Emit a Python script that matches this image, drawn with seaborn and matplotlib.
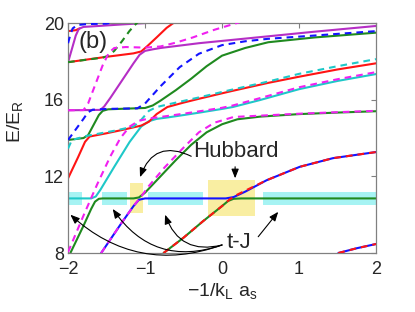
import matplotlib
matplotlib.use('Agg')
import matplotlib.pyplot as plt
import seaborn as sns
import pandas as pd
from matplotlib.patches import Rectangle

# energy levels E/E_R vs -1/(k_L a_s)
green_low = [(-1.97, 8.0), (-1.8, 9.42), (-1.7, 10.3), (-1.65, 10.68), (-1.6, 10.83), (-1.55, 10.85),
             (-1.15, 10.85), (-1.08, 10.9), (-1.0, 11.15), (-0.8, 12.0), (-0.6, 12.85), (-0.4, 13.65),
             (-0.2, 14.3), (0.0, 14.72), (0.2, 14.98), (0.5, 15.12), (1.0, 15.25), (1.5, 15.33), (2.0, 15.4)]
green_flat = [(-0.76, 8.0), (-0.5, 8.8), (-0.25, 9.65), (0.0, 10.45), (0.08, 10.72), (0.15, 10.83),
              (0.25, 10.85), (2.0, 10.85)]
green_mid = [(-2.0, 13.9), (-1.8, 14.0), (-1.74, 14.15), (-1.68, 14.6), (-1.6, 15.2), (-1.55, 15.42),
             (-1.48, 15.5), (-1.0, 15.57), (-0.9, 15.7), (-0.8, 15.95), (-0.6, 16.5), (-0.4, 17.1),
             (-0.2, 17.75), (0.0, 18.3), (0.3, 18.7), (0.6, 19.0), (1.2, 19.25), (2.0, 19.5)]
blue_low = [(-1.57, 8.0), (-1.3, 9.6), (-1.15, 10.45), (-1.08, 10.78), (-1.0, 10.85), (0.05, 10.85),
            (0.15, 10.92), (0.3, 11.2), (0.58, 11.8), (1.01, 12.5), (1.44, 12.95), (2.0, 13.27)]
blue_corner = [(1.51, 8.0), (1.75, 8.25), (2.0, 8.47)]
cyan_solid = [(-2.0, 10.85), (-1.7, 10.85), (-1.64, 10.95), (-1.58, 11.3), (-1.4, 12.5), (-1.2, 13.8),
              (-1.05, 14.6), (-0.95, 14.88), (-0.85, 15.0), (-0.7, 15.08), (-0.5, 15.2), (-0.29, 15.33),
              (0.0, 15.52), (0.14, 15.62), (0.49, 15.98), (1.0, 16.55), (1.5, 16.98), (2.0, 17.34)]
red_mid = [(-2.0, 11.9), (-1.87, 13.0), (-1.78, 13.8), (-1.72, 14.08), (-1.5, 14.25), (-1.3, 14.42),
           (-1.05, 14.65), (-0.95, 14.85), (-0.85, 15.25), (-0.71, 15.62), (-0.5, 15.85), (-0.3, 16.05),
           (0.1, 16.43), (0.6, 16.88), (1.0, 17.2), (1.5, 17.58), (2.0, 17.9)]
red_top = [(-2.0, 17.96), (-1.5, 18.24), (-1.15, 18.42), (-1.05, 18.52), (-0.97, 18.8), (-0.85, 19.25),
           (-0.72, 19.75), (-0.64, 19.98), (-0.58, 20.1)]
red_corner = [(-2.0, 19.58), (-1.9, 19.63), (-1.85, 19.72)]
purple = [(-2.0, 15.45), (-1.58, 15.47), (-1.53, 15.65), (-1.45, 16.1), (-1.3, 17.0), (-1.15, 17.9),
          (-1.07, 18.35), (-1.0, 18.55), (-0.9, 18.63), (-0.8, 18.7), (-0.3, 18.95), (0.5, 19.27),
          (1.2, 19.55), (2.0, 19.85)]
magenta_top = [(-2.0, 17.96), (-1.95, 18.65), (-1.9, 19.35), (-1.86, 19.7), (-1.8, 19.8), (-1.6, 19.85),
               (-1.3, 19.93), (-1.0, 20.0), (-0.8, 20.05)]

# dashed levels
blue_d_top = [(-2.0, 18.95), (-1.97, 19.4), (-1.94, 19.72), (-1.88, 19.9), (-1.75, 19.95), (-1.5, 19.97),
              (-1.4, 20.05)]
blue_d_mid = [(-2.0, 13.9), (-1.9, 14.45), (-1.8, 15.0), (-1.74, 15.35), (-1.68, 15.48), (-1.5, 15.52),
              (-1.1, 15.55), (-1.0, 15.8), (-0.8, 16.7), (-0.55, 17.7), (-0.3, 18.4), (0.0, 18.85),
              (0.3, 19.05), (0.6, 19.18), (1.2, 19.35), (2.0, 19.58)]
green_d = [(-2.0, 17.96), (-1.55, 18.2), (-1.47, 18.3), (-1.4, 18.55), (-1.3, 19.05), (-1.2, 19.6),
           (-1.12, 19.95), (-1.08, 20.1)]
cyan_d = [(-2.0, 13.45), (-1.95, 13.9), (-1.75, 14.12), (-1.4, 14.38), (-1.15, 14.6), (-1.05, 14.95),
          (-0.95, 15.42), (-0.85, 15.62), (-0.71, 15.75), (-0.3, 16.12), (0.1, 16.5), (0.6, 16.95),
          (1.0, 17.35), (1.5, 17.75), (2.0, 18.12)]
magenta_d_low = [(-2.0, 8.05), (-1.8, 9.95), (-1.62, 11.6), (-1.45, 13.05), (-1.32, 14.0), (-1.2, 14.6),
                 (-1.08, 14.9), (-0.95, 15.02), (-0.8, 15.1), (-0.5, 15.27), (-0.29, 15.4), (0.0, 15.58),
                 (0.14, 15.7), (0.49, 16.08), (1.0, 16.65), (1.5, 17.07), (2.0, 17.44)]
magenta_d_mid = [(-1.57, 8.0), (-1.3, 9.6), (-1.15, 10.45), (-1.05, 10.95), (-0.95, 11.5), (-0.75, 12.45),
                 (-0.5, 13.5), (-0.3, 14.3), (-0.1, 14.8), (0.15, 15.1), (0.5, 15.17), (1.0, 15.27),
                 (1.5, 15.35), (2.0, 15.42)]
magenta_d_top = [(-2.0, 15.45), (-1.8, 15.46), (-1.74, 15.8), (-1.65, 16.75), (-1.55, 17.8), (-1.47, 18.45),
                 (-1.4, 18.7), (-1.25, 18.75), (-1.0, 18.72), (-0.8, 18.78), (-0.6, 18.98), (-0.38, 19.25),
                 (-0.1, 19.65), (0.19, 20.0), (0.3, 20.15)]
red_d = [(-0.76, 8.0), (-0.5, 8.8), (-0.25, 9.65), (0.0, 10.45), (0.1, 10.8), (0.2, 11.05), (0.3, 11.25),
         (0.58, 11.8), (1.01, 12.5), (1.44, 12.95), (2.0, 13.27)]
red_d_corner = [(1.51, 8.0), (1.75, 8.25), (2.0, 8.47)]

# highlighted regions
tj_bands = [(-2.0, -1.82), (-1.56, -1.23), (-0.96, -0.25), (0.53, 2.0)]
tj_band_e = (10.5, 11.18)
hubbard_boxes = [(-1.19, -1.03, 10.09, 11.65), (-0.18, 0.43, 9.93, 11.81)]

x_ticks = [-2, -1, 0, 1, 2]
y_ticks = [8, 12, 16, 20]

GREEN = '#1f8a1f'
BLUE = '#1414ff'
RED = '#ff1414'
CYAN = '#1ec8c8'
PURPLE = '#b52ec5'
MAGENTA = '#f020f0'

solid_lines = [
    (green_low, GREEN), (green_flat, GREEN), (green_mid, GREEN),
    (blue_low, BLUE), (blue_corner, BLUE), (cyan_solid, CYAN),
    (red_mid, RED), (red_top, RED), (red_corner, RED),
    (purple, PURPLE), (magenta_top, PURPLE),
]
dashed_lines = [
    (blue_d_top, BLUE), (blue_d_mid, BLUE), (green_d, GREEN), (cyan_d, CYAN),
    (magenta_d_low, MAGENTA), (magenta_d_mid, MAGENTA), (magenta_d_top, MAGENTA),
    (red_d, RED), (red_d_corner, RED),
]

sns.set_style('white')
plt.rcParams['font.family'] = ['Liberation Sans', 'DejaVu Sans']
plt.rcParams['mathtext.default'] = 'regular'

fig = plt.figure(figsize=(4.15, 3.12), dpi=100)
ax = fig.add_axes([0.164, 0.189, 0.742, 0.737])

for lo, hi in tj_bands:
    ax.add_patch(Rectangle((lo, tj_band_e[0]), hi - lo, tj_band_e[1] - tj_band_e[0],
                           facecolor='#a6f3f3', edgecolor='none', zorder=0))
for x0, x1, e0, e1 in hubbard_boxes:
    ax.add_patch(Rectangle((x0, e0), x1 - x0, e1 - e0,
                           facecolor='#f9eea2', edgecolor='none', zorder=0.5))

for pts, col in solid_lines:
    df = pd.DataFrame(pts, columns=['x', 'E'])
    sns.lineplot(data=df, x='x', y='E', sort=False, estimator=None, color=col,
                 linewidth=1.5, ax=ax, zorder=2)
for pts, col in dashed_lines:
    df = pd.DataFrame(pts, columns=['x', 'E'])
    sns.lineplot(data=df, x='x', y='E', sort=False, estimator=None, color=col,
                 linewidth=1.5, linestyle=(0, (3.2, 2.4)), ax=ax, zorder=3)

ax.set_xlim(-2, 2)
ax.set_ylim(8, 20)
ax.set_xticks(x_ticks)
ax.set_yticks(y_ticks)
ax.tick_params(direction='in', length=3.5, width=0.8, color='#808080', labelsize=13,
               top=True, right=True)
ax.tick_params(axis='x', pad=6)
ax.tick_params(axis='y', pad=3)
for sp in ax.spines.values():
    sp.set_color('#808080')
    sp.set_linewidth(0.9)

ax.set_xlabel('\u22121/k$_L$ a$_s$', fontsize=14, labelpad=2)
ax.set_ylabel('E/E$_R$', fontsize=14)
ax.yaxis.set_label_coords(-0.14, 0.57)

ax.text(-1.86, 19.0, '(b)', fontsize=17, va='center', ha='left', zorder=5)
ax.text(-0.37, 13.3, 'Hubbard', fontsize=16, va='center', ha='left', zorder=5)
ax.text(0.06, 8.55, 't-J', fontsize=16, va='center', ha='left', zorder=5)

arrow_kw = dict(arrowstyle='-|>,head_length=0.55,head_width=0.22', color='black', lw=0.8,
                shrinkA=0, shrinkB=0)
ax.annotate('', xy=(-1.065, 11.96), xytext=(-0.4, 13.05),
            arrowprops=dict(connectionstyle='arc3,rad=0.55', **arrow_kw), zorder=5)
ax.annotate('', xy=(0.17, 11.9), xytext=(0.17, 12.5), arrowprops=arrow_kw, zorder=5)
ax.annotate('', xy=(-1.97, 10.0), xytext=(0.0, 8.42),
            arrowprops=dict(connectionstyle='arc3,rad=-0.3', **arrow_kw), zorder=5)
ax.annotate('', xy=(-1.42, 10.3), xytext=(0.0, 8.42),
            arrowprops=dict(connectionstyle='arc3,rad=-0.38', **arrow_kw), zorder=5)
ax.annotate('', xy=(-0.74, 10.0), xytext=(0.0, 8.42),
            arrowprops=dict(connectionstyle='arc3,rad=-0.45', **arrow_kw), zorder=5)
ax.annotate('', xy=(0.73, 10.15), xytext=(0.47, 8.85), arrowprops=arrow_kw, zorder=5)

fig.savefig('out.png', dpi=100, facecolor='white')
plt.close(fig)
